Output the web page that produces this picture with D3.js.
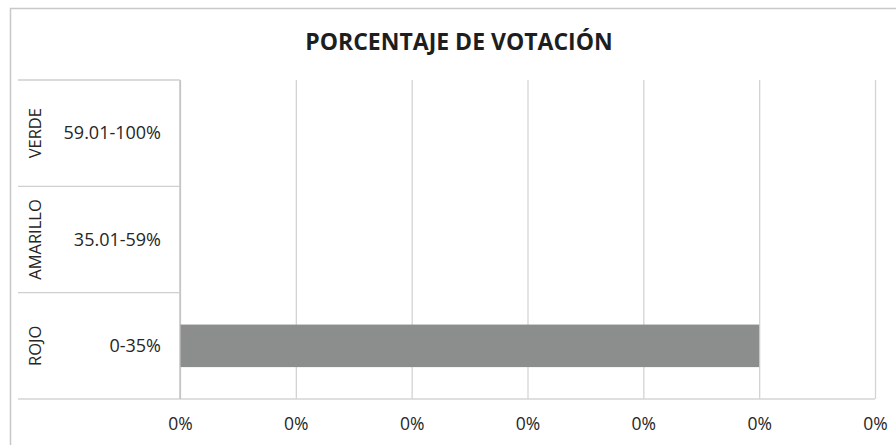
<!DOCTYPE html>
<html>
<head>
<meta charset="utf-8">
<script src="https://cdn.jsdelivr.net/npm/d3@7"></script>
<style>
	body { margin: 0; background: #fff; }
	text { font-family: "Open Sans", sans-serif; fill: #262626; }
</style>
</head>
<body>
<div class="chart"></div>
<script>
// data
const categories = ['VERDE', 'AMARILLO', 'ROJO'];
const ranges = ['59.01-100%', '35.01-59%', '0-35%'];
const values = [0, 0, 0.005];
const tickValues = [0, 0.001, 0.002, 0.003, 0.004, 0.005, 0.006];
const tickLabels = ['0%', '0%', '0%', '0%', '0%', '0%', '0%'];

const W = 896, H = 445;
const margin = { top: 80, right: 21, bottom: 46, left: 180 };
const width = W - margin.left - margin.right;
const height = H - margin.top - margin.bottom;

const svg = d3.select('.chart')
	.append('svg')
		.attr('width', W)
		.attr('height', H);

// outer chart frame
svg.append('path')
	.attr('d', `M10.5,${H} V8.5 H${W}`)
	.attr('fill', 'none')
	.attr('stroke', '#c8c8c8')
	.attr('stroke-width', 1.5);

svg.append('text')
	.attr('x', 459)
	.attr('y', 50)
	.attr('text-anchor', 'middle')
	.style('font-weight', 700)
	.style('font-size', '23px')
	.style('fill', '#1e1e1e')
	.text('PORCENTAJE DE VOTACIÓN');

const g = svg.append('g')
	.attr('transform', `translate(${margin.left}, ${margin.top})`);

const xScale = d3.scaleLinear()
	.domain([0, 0.006])
	.range([0, width]);

const yScale = d3.scaleBand()
	.domain(categories)
	.range([0, height]);

// vertical gridlines
g.append('g')
	.attr('class', 'grid')
	.call(d3.axisBottom(xScale).tickValues(tickValues).tickSize(height).tickFormat(''))
	.call(s => s.select('.domain').remove())
	.call(s => s.selectAll('line').attr('stroke', '#d4d4d4').attr('stroke-width', 1.3));

// bars
g.selectAll('.bar')
	.data(values)
	.enter()
	.append('rect')
	.attr('class', 'bar')
	.attr('x', xScale(0))
	.attr('y', (d, i) => yScale(categories[i]) + yScale.bandwidth() * 0.3)
	.attr('width', d => xScale(d) - xScale(0))
	.attr('height', yScale.bandwidth() * 0.4)
	.attr('fill', '#8b8e8d');

// x axis labels
g.append('g')
	.attr('transform', `translate(0, ${height})`)
	.call(d3.axisBottom(xScale).tickValues(tickValues).tickSize(0).tickPadding(19)
		.tickFormat((d, i) => tickLabels[i]))
	.call(s => s.select('.domain').remove())
	.call(s => s.selectAll('text').style('font-size', '17.5px').style('fill', '#262626'));

// bottom axis line
g.append('line')
	.attr('x1', -162).attr('x2', width)
	.attr('y1', height).attr('y2', height)
	.attr('stroke', '#d4d4d4')
	.attr('stroke-width', 1.3);

// category axis: two-level labels with separators
const catAxis = g.append('g');

catAxis.append('line')
	.attr('x1', 0).attr('x2', 0)
	.attr('y1', 0).attr('y2', height)
	.attr('stroke', '#bdbdbd')
	.attr('stroke-width', 1.3);

catAxis.selectAll('.sep')
	.data(categories)
	.enter()
	.append('line')
	.attr('class', 'sep')
	.attr('x1', -162).attr('x2', 0)
	.attr('y1', d => yScale(d))
	.attr('y2', d => yScale(d))
	.attr('stroke', '#cfcfcf')
	.attr('stroke-width', 1.3);

catAxis.selectAll('.range')
	.data(ranges)
	.enter()
	.append('text')
	.attr('class', 'range')
	.attr('x', -19)
	.attr('y', (d, i) => yScale(categories[i]) + yScale.bandwidth() / 2)
	.attr('dy', '0.35em')
	.attr('text-anchor', 'end')
	.style('font-size', '18px')
	.text(d => d);

catAxis.selectAll('.group')
	.data(categories)
	.enter()
	.append('text')
	.attr('class', 'group')
	.attr('transform', d => `translate(${-139}, ${yScale(d) + yScale.bandwidth() / 2}) rotate(-90)`)
	.attr('text-anchor', 'middle')
	.style('font-size', '16.5px')
	.text(d => d);
</script>
</body>
</html>
